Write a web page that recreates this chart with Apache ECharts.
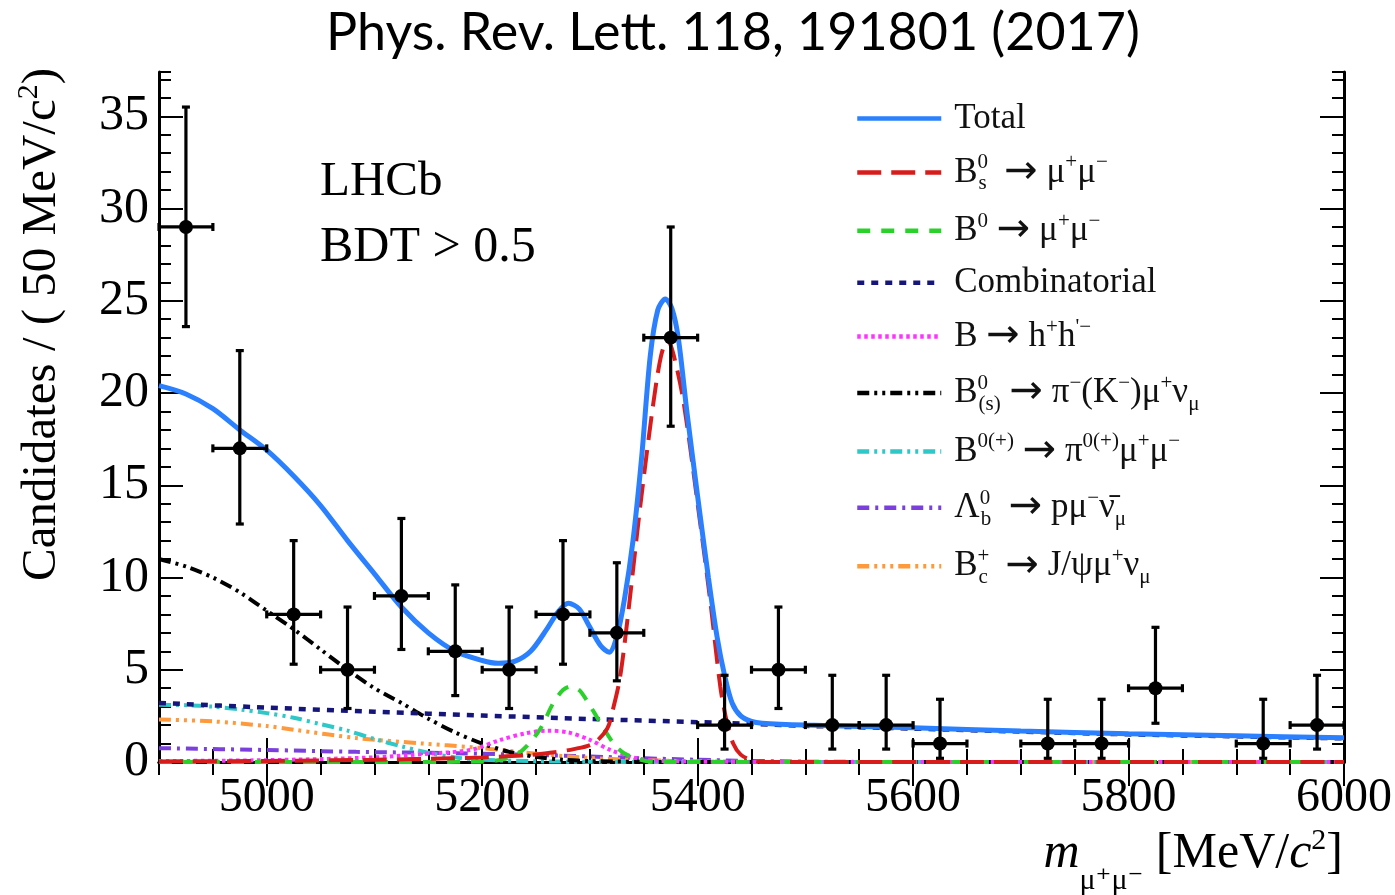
<!DOCTYPE html>
<html>
<head>
<meta charset="utf-8">
<script src="https://cdn.jsdelivr.net/npm/echarts@6/dist/echarts.min.js"></script>
<style>html,body{margin:0;padding:0;background:#fff}#c{width:1395px;height:895px}</style>
</head>
<body>
<div id="c"></div>
<script>
// ---------------- DATA ----------------
const X_TICK_LABELS = [5000, 5200, 5400, 5600, 5800, 6000];
const Y_TICK_LABELS = [0, 5, 10, 15, 20, 25, 30, 35];
const BIN_WIDTH = 50;

// Data points (bin centres, counts, error-bar lower / upper ends)
const binCenters = [4925, 4975, 5025, 5075, 5125, 5175, 5225, 5275, 5325, 5375, 5425, 5475, 5525, 5575, 5625, 5725, 5775, 5825, 5925, 5975];
const counts     = [29, 17, 8, 5, 9, 6, 5, 8, 7, 23, 2, 5, 2, 2, 1, 1, 1, 4, 1, 2];
const errLow     = [23.6, 12.9, 5.3, 2.9, 6.1, 3.6, 2.9, 5.3, 4.4, 18.2, 0.7, 2.9, 0.7, 0.7, 0.2, 0.2, 0.2, 2.1, 0.2, 0.7];
const errHigh    = [35.5, 22.3, 12.0, 8.4, 13.2, 9.6, 8.4, 12.0, 10.8, 29.0, 4.7, 8.4, 4.7, 4.7, 3.4, 3.4, 3.4, 7.3, 3.4, 4.7];

// Fit components [mass, candidates]
const totalFit = [[4900,20.4],[4925,19.95],[4950,19.15],[4975,18.0],[5000,16.9],[5025,15.5],[5050,13.9],[5075,12.0],[5100,10.2],[5125,8.4],[5150,7.0],[5175,6.0],[5200,5.5],[5215,5.35],[5230,5.45],[5245,6.0],[5260,7.2],[5270,8.1],[5280,8.6],[5290,8.3],[5300,7.3],[5310,6.3],[5318,5.95],[5325,6.8],[5332,8.8],[5340,12.0],[5348,16.5],[5356,22.0],[5363,24.5],[5370,25.1],[5376,24.6],[5382,23.0],[5390,19.0],[5400,14.4],[5410,10.0],[5418,6.8],[5425,4.7],[5432,3.2],[5440,2.5],[5450,2.2],[5460,2.1],[5500,2.0],[5600,1.85],[5700,1.68],[5800,1.53],[5900,1.42],[6000,1.31]];
const bsFit = [[4900,0.03],[5000,0.06],[5100,0.12],[5171,0.2],[5200,0.25],[5245,0.38],[5263,0.5],[5285,0.7],[5303,1.0],[5316,1.8],[5322,3.0],[5328,4.6],[5335,7.8],[5347,14.0],[5359,19.5],[5366,22.0],[5372,22.9],[5378,22.0],[5387,19.5],[5400,14.0],[5412,8.6],[5421,4.1],[5427,2.2],[5433,1.0],[5440,0.4],[5450,0.1],[5460,0],[5600,0],[5800,0],[6000,0]];
const b0Fit = [[4900,0],[5100,0],[5200,0.02],[5220,0.15],[5233,0.45],[5242,0.9],[5254,1.8],[5266,3.2],[5275,3.9],[5282,4.1],[5290,3.9],[5298,3.25],[5310,2.1],[5322,1.0],[5331,0.5],[5345,0.15],[5360,0],[5600,0],[5800,0],[6000,0]];
const combFit = [[4900,3.2],[5000,2.95],[5100,2.72],[5200,2.52],[5300,2.33],[5400,2.16],[5500,1.96],[5600,1.81],[5700,1.65],[5800,1.5],[5900,1.39],[6000,1.28]];
const hhFit = [[4900,0.05],[5000,0.1],[5100,0.25],[5150,0.45],[5189,0.65],[5217,1.2],[5240,1.55],[5260,1.7],[5280,1.6],[5300,1.2],[5319,0.65],[5340,0.25],[5360,0.08],[5400,0.02],[5500,0],[6000,0]];
const pimunuFit = [[4900,11.0],[4925,10.6],[4950,10.0],[4975,9.2],[5000,8.2],[5025,7.2],[5050,6.1],[5075,5.0],[5100,4.0],[5125,3.2],[5150,2.35],[5175,1.6],[5200,1.0],[5225,0.55],[5250,0.28],[5275,0.12],[5300,0.05],[5350,0.01],[5400,0],[6000,0]];
const pimumuFit = [[4900,3.1],[4925,3.08],[4950,3.0],[4975,2.85],[5000,2.65],[5025,2.4],[5050,2.05],[5075,1.7],[5100,1.25],[5125,0.85],[5150,0.5],[5175,0.25],[5200,0.12],[5250,0.04],[5300,0.01],[5400,0],[6000,0]];
const lbFit = [[4900,0.75],[5000,0.65],[5083,0.55],[5175,0.48],[5250,0.38],[5300,0.3],[5350,0.2],[5400,0.12],[5450,0.06],[5500,0.02],[5600,0],[6000,0]];
const bcFit = [[4900,2.3],[4950,2.2],[5000,1.95],[5025,1.75],[5083,1.3],[5145,1.0],[5190,0.8],[5225,0.6],[5250,0.45],[5300,0.22],[5350,0.1],[5400,0.04],[5450,0.01],[5500,0],[6000,0]];

const seriesNames = ['Total', 'Bs0 → μ+μ−', 'B0 → μ+μ−', 'Combinatorial', "B → h+h'−", 'B0(s) → π−(K−)μ+νμ', 'B0(+) → π0(+)μ+μ−', 'Λb0 → pμ−ν̄μ', 'Bc+ → J/ψμ+νμ'];
const legendRich = {
  'Total': '{n|Total}',
  'Bs0 → μ+μ−': '{n|B}{sp0|0}{sb|s}{n|  }{ar|→}{n| μ}{sp|+}{n|μ}{sp|−}',
  'B0 → μ+μ−': '{n|B}{sp|0}{n| }{ar|→}{n| μ}{sp|+}{n|μ}{sp|−}',
  'Combinatorial': '{n|Combinatorial}',
  "B → h+h'−": "{n|B }{ar|→}{n| h}{sp|+}{n|h}{sp|'−}",
  'B0(s) → π−(K−)μ+νμ': '{n|B}{sp0|0}{sb|(s)}{n| }{ar|→}{n| π}{sp|−}{n|(K}{sp|−}{n|)μ}{sp|+}{n|ν}{sb|μ}',
  'B0(+) → π0(+)μ+μ−': '{n|B}{sp|0(+)}{n| }{ar|→}{n| π}{sp|0(+)}{n|μ}{sp|+}{n|μ}{sp|−}',
  'Λb0 → pμ−ν̄μ': '{n|Λ}{sp0|0}{sb|b}{n|  }{ar|→}{n| pμ}{sp|−}{n|ν̄}{sb|μ}',
  'Bc+ → J/ψμ+νμ': '{n|B}{sp0|+}{sb|c}{n|  }{ar|→}{n| J/ψμ}{sp|+}{n|ν}{sb|μ}'
};

// ---------------- CHART ----------------
const chart = echarts.init(document.getElementById('c'), null, {renderer: 'canvas'});
const SERIF = "'Liberation Serif', 'DejaVu Serif', serif";

function renderErr(params, api) {
  const x = api.value(0), y = api.value(1), lo = api.value(2), hi = api.value(3);
  const c = api.coord([x, y]);
  const l = api.coord([x - BIN_WIDTH / 2, y]);
  const r = api.coord([x + BIN_WIDTH / 2, y]);
  const t = api.coord([x, hi]);
  const b = api.coord([x, lo]);
  const cap = 4;
  const st = {stroke: '#000', lineWidth: 3.2};
  return {type: 'group', children: [
    {type: 'line', shape: {x1: l[0], y1: c[1], x2: r[0], y2: c[1]}, style: st},
    {type: 'line', shape: {x1: c[0], y1: t[1], x2: c[0], y2: b[1]}, style: st},
    {type: 'line', shape: {x1: l[0], y1: c[1] - cap, x2: l[0], y2: c[1] + cap}, style: st},
    {type: 'line', shape: {x1: r[0], y1: c[1] - cap, x2: r[0], y2: c[1] + cap}, style: st},
    {type: 'line', shape: {x1: c[0] - cap, y1: t[1], x2: c[0] + cap, y2: t[1]}, style: st},
    {type: 'line', shape: {x1: c[0] - cap, y1: b[1], x2: c[0] + cap, y2: b[1]}, style: st},
    {type: 'circle', shape: {cx: c[0], cy: c[1], r: 7}, style: {fill: '#000'}}
  ]};
}

function mkLine(name, data, color, width, dash, z) {
  return {
    name: name, type: 'line', data: data, xAxisIndex: 0, yAxisIndex: 0,
    symbol: 'none', smooth: 0.3, z: z, animation: false,
    lineStyle: {color: color, width: width, type: dash},
    itemStyle: {color: color}
  };
}

const plain = (v) => String(v);
const xMain = (pos, showLabel) => ({
  type: 'value', min: 4900, max: 6000, position: pos,
  axisLine: {show: true, lineStyle: {color: '#000', width: 3}},
  axisTick: {show: true, inside: true, length: 24, customValues: X_TICK_LABELS, lineStyle: {color: '#000', width: 2}},
  axisLabel: {show: showLabel, customValues: X_TICK_LABELS, formatter: plain, fontFamily: SERIF, fontSize: 48, color: '#000', margin: 12},
  splitLine: {show: false}
});
const xMinor = (pos) => ({
  type: 'value', min: 4900, max: 6000, interval: 50, position: pos,
  axisLine: {show: false},
  axisTick: {show: true, inside: true, length: 13, lineStyle: {color: '#000', width: 2}},
  axisLabel: {show: false}, splitLine: {show: false}
});
const yMain = (pos, showLabel) => ({
  type: 'value', min: 0, max: 37.4, position: pos,
  axisLine: {show: true, lineStyle: {color: '#000', width: 3}},
  axisTick: {show: true, inside: true, length: 24, customValues: Y_TICK_LABELS, lineStyle: {color: '#000', width: 2}},
  axisLabel: {show: showLabel, customValues: Y_TICK_LABELS, formatter: plain, fontFamily: SERIF, fontSize: 50, color: '#000', margin: 10},
  splitLine: {show: false}
});
const yMinor = (pos) => ({
  type: 'value', min: 0, max: 37.4, interval: 1, position: pos,
  axisLine: {show: false},
  axisTick: {show: true, inside: true, length: 12, lineStyle: {color: '#000', width: 2}},
  axisLabel: {show: false}, splitLine: {show: false}
});

const supStyle = {fontFamily: SERIF, fontSize: 21, lineHeight: 21, verticalAlign: 'top', color: '#111', padding: [2, 0, 0, 0]};
const subStyle = {fontFamily: SERIF, fontSize: 21, lineHeight: 21, verticalAlign: 'bottom', color: '#111'};

const option = {
  backgroundColor: '#fff',
  animation: false,
  title: {
    text: 'Phys. Rev. Lett. 118, 191801 (2017)',
    left: 321, top: 2,
    textStyle: {fontFamily: 'Lato', fontSize: 52, fontWeight: 'normal', color: '#000'}
  },
  grid: {left: 159, right: 50, top: 72, bottom: 133, containLabel: false},
  xAxis: [xMain('bottom', true), xMinor('bottom'), xMain('top', false), xMinor('top')],
  yAxis: [yMain('left', true), yMinor('left'), yMain('right', false), yMinor('right')],
  legend: {
    data: seriesNames,
    orient: 'vertical', left: 850, top: 96,
    itemWidth: 84, itemHeight: 14, itemGap: 14.4,
    selectedMode: false,
    itemStyle: {opacity: 0},
    lineStyle: {width: 4.5},
    formatter: (name) => legendRich[name],
    textStyle: {
      color: '#111', padding: [0, 0, 0, 8],
      rich: {
        n: {fontFamily: SERIF, fontSize: 35, lineHeight: 44, color: '#111'},
        ar: {fontFamily: "'DejaVu Sans', sans-serif", fontSize: 40, lineHeight: 44, color: '#111'},
        sp: supStyle, sb: subStyle,
        sp0: Object.assign({}, supStyle, {width: 1})
      }
    }
  },
  graphic: [
    {type: 'text', x: 320, y: 182, style: {text: 'LHCb', fontFamily: SERIF, fontSize: 49, fill: '#000', verticalAlign: 'middle'}},
    {type: 'text', x: 320, y: 248, style: {text: 'BDT > 0.5', fontFamily: SERIF, fontSize: 50, fill: '#000', verticalAlign: 'middle'}},
    {type: 'text', x: 42, y: 68, rotation: Math.PI / 2,
      style: {text: '{n|Candidates / ( 50 MeV/c}{s|2}{n|)}', align: 'right', verticalAlign: 'middle', fill: '#000',
        rich: {n: {fontFamily: SERIF, fontSize: 49, lineHeight: 56, fill: '#000'}, s: {fontFamily: SERIF, fontSize: 30, lineHeight: 30, verticalAlign: 'top', fill: '#000'}}}},
    {type: 'text', x: 1343, y: 826,
      style: {text: '{i|m}{sb|μ⁺μ⁻}{n| [MeV/}{i|c}{s|2}{n|]}', align: 'right', verticalAlign: 'top', fill: '#000',
        rich: {
          n: {fontFamily: SERIF, fontSize: 50, lineHeight: 56, fill: '#000'},
          i: {fontFamily: SERIF, fontSize: 50, lineHeight: 56, fontStyle: 'italic', fill: '#000'},
          s: {fontFamily: SERIF, fontSize: 30, lineHeight: 30, verticalAlign: 'top', fill: '#000'},
          sb: {fontFamily: SERIF, fontSize: 30, lineHeight: 30, verticalAlign: 'bottom', fill: '#000', padding: [0, 0, -14, 0]}
        }}}
  ],
  series: [
    mkLine(seriesNames[7], lbFit, '#7a3fdc', 4, [12, 6, 3, 6], 2),
    mkLine(seriesNames[8], bcFit, '#ff9a3c', 4, [12, 5, 3, 5, 3, 5, 3, 5], 2),
    mkLine(seriesNames[6], pimumuFit, '#2ec8c8', 4, [12, 5, 3, 5, 3, 5], 2),
    mkLine(seriesNames[5], pimunuFit, '#000000', 4, [12, 5, 3, 5, 3, 5], 2),
    mkLine(seriesNames[4], hhFit, '#ff33ff', 4, [3.5, 3.5], 2),
    mkLine(seriesNames[3], combFit, '#16167a', 4.5, [7, 7], 3),
    mkLine(seriesNames[2], b0Fit, '#2bd12b', 4, [13, 11], 4),
    mkLine(seriesNames[1], bsFit, '#d81c1c', 4, [24, 10], 5),
    mkLine(seriesNames[0], totalFit, '#2a80ff', 5, 'solid', 6),
    {
      name: 'Data', type: 'custom', xAxisIndex: 0, yAxisIndex: 0, z: 10,
      renderItem: renderErr,
      data: binCenters.map((x, i) => [x, counts[i], errLow[i], errHigh[i]]),
      encode: {x: 0, y: 1}
    }
  ]
};
chart.setOption(option);
</script>
</body>
</html>
